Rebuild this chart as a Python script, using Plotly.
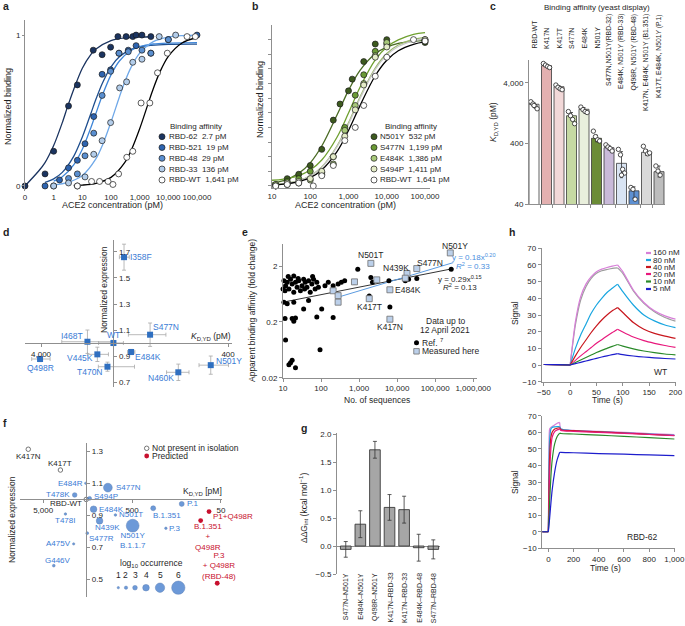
import math
import plotly.graph_objects as go

W, H = 685, 626
FONT = "Liberation Sans, Arial, Helvetica, sans-serif"
INK = "#1f1f1f"
AXC = "#8f8f8f"
VBLUE = "#3a7bd5"
VRED = "#c8102e"

# ---------------- panel a : titration, designed RBDs ----------------
a_names = ["RBD-62", "RBD-521", "RBD-48", "RBD-33", "RBD-WT"]
a_kd_text = ["2.7 pM", "19 pM", "29 pM", "136 pM", "1,641 pM"]
a_62_x = [0, 0.5, 1, 3.3, 6.7, 24, 49, 97, 174, 337, 575, 750, 1200, 2460]
a_62_y = [0, 0.08, 0.23, 0.53, 0.67, 0.90, 0.87, 0.92, 0.99, 0.99, 0.99, 1.0, 1.0, 0.99]
a_521_x = [0.5, 1.6, 3.3, 6.7, 12.4, 25, 49, 97, 190, 400, 750, 2460, 10000, 100000]
a_521_y = [0.0, 0.04, 0.12, 0.17, 0.28, 0.46, 0.74, 0.77, 0.88, 0.90, 0.93, 0.88, 0.97, 1.0]
a_48_x = [1, 3.3, 6.7, 12.4, 25, 49, 97, 190, 400, 1200, 2460, 10000]
a_48_y = [0.0, 0.05, 0.08, 0.20, 0.35, 0.60, 0.76, 0.88, 0.89, 0.90, 0.88, 0.97]
a_33_x = [1, 3.3, 6.7, 12.4, 25, 49, 97, 200, 350, 575, 1200, 4800, 18000]
a_33_y = [0.0, 0.02, 0.0, 0.06, 0.21, 0.30, 0.42, 0.65, 0.69, 0.82, 0.84, 0.99, 1.0]
a_wt_x = [6.7, 21, 40, 79, 117, 184, 355, 575, 1120, 2260, 4190, 9200, 45000, 87000]
a_wt_y = [0.0, 0.03, 0.03, 0.03, 0.01, 0.08, 0.19, 0.23, 0.55, 0.55, 0.75, 0.88, 0.99, 0.99]
# fitted curves
a_fit62_x = [0, 0.3, 0.5, 1, 2, 3, 5, 10, 20, 30, 100, 300, 1000, 3000]
a_fit62_y = [0, 0.099, 0.155, 0.268, 0.42, 0.521, 0.64, 0.78, 0.872, 0.908, 0.964, 0.981, 0.987, 0.989]
a_fit521_x = [0.5, 1, 2, 5, 10, 20, 30, 50, 100, 200, 500, 1000, 10000, 100000]
a_fit521_y = [0.024, 0.047, 0.09, 0.196, 0.324, 0.482, 0.576, 0.681, 0.79, 0.858, 0.905, 0.922, 0.938, 0.94]
a_fit48_x = [1, 2, 5, 10, 20, 30, 50, 100, 200, 500, 1000, 3000, 10000, 100000]
a_fit48_y = [0.032, 0.061, 0.14, 0.243, 0.388, 0.483, 0.601, 0.736, 0.83, 0.898, 0.923, 0.941, 0.947, 0.95]
a_fit33_x = [1, 3, 10, 30, 50, 100, 200, 300, 500, 1000, 3000, 10000, 30000, 100000]
a_fit33_y = [0.007, 0.022, 0.069, 0.181, 0.269, 0.424, 0.595, 0.688, 0.786, 0.88, 0.957, 0.987, 0.996, 0.999]
a_fitwt_x = [5, 10, 30, 100, 300, 500, 1000, 2000, 3000, 5000, 10000, 30000, 100000]
a_fitwt_y = [0.003, 0.006, 0.018, 0.057, 0.155, 0.234, 0.379, 0.549, 0.646, 0.753, 0.859, 0.948, 0.984]

# ---------------- panel b : titration, single mutants ----------------
b_names = ["N501Y", "S477N", "E484K", "S494P", "RBD-WT"]
b_kd_text = ["532 pM", "1,199 pM", "1,386 pM", "1,411 pM", "1,641 pM"]
b_n501y_x = [12.5, 25, 50, 100, 200, 400, 600, 1000, 1250, 2500, 5000, 10000, 100000]
b_n501y_y = [0.01, 0.05, 0.08, 0.14, 0.25, 0.45, 0.56, 0.65, 0.73, 0.85, 0.97, 1.0, 0.98]
b_conc_x = [12.5, 25, 50, 100, 200, 400, 800, 1500, 2500, 5000, 10000, 100000]
b_s477n_y = [0.0, 0.03, 0.05, 0.10, 0.09, 0.20, 0.40, 0.62, 0.76, 0.92, 0.97, 1.0]
b_e484k_y = [0.01, 0.01, 0.02, 0.04, 0.08, 0.15, 0.38, 0.55, 0.70, 0.89, 0.98, 0.99]
b_s494p_y = [0.0, 0.02, 0.03, 0.05, 0.10, 0.20, 0.34, 0.52, 0.69, 0.88, 0.95, 1.0]
b_wt_x = [12.5, 25, 50, 120, 200, 400, 800, 1500, 2500, 5000, 10000, 50000, 100000]
b_wt_y = [0.0, 0.01, 0.02, 0.0, 0.07, 0.14, 0.31, 0.40, 0.55, 0.75, 0.88, 1.0, 0.99]
b_fit_x = [10, 20, 50, 100, 200, 500, 1000, 2000, 5000, 10000, 20000, 50000, 100000]
b_fit_n501y = [0.019, 0.036, 0.086, 0.158, 0.273, 0.485, 0.653, 0.79, 0.904, 0.949, 0.974, 0.989, 0.995]
b_fit_s477n = [0.039, 0.047, 0.071, 0.109, 0.177, 0.333, 0.498, 0.674, 0.861, 0.95, 0.998, 1.036, 1.048]
b_fit_e484k = [0.007, 0.015, 0.036, 0.069, 0.13, 0.273, 0.431, 0.608, 0.806, 0.905, 0.963, 1.002, 1.016]
b_fit_s494p = [0.007, 0.014, 0.035, 0.068, 0.127, 0.267, 0.422, 0.598, 0.796, 0.894, 0.953, 0.992, 1.006]
b_fit_wt = [0.006, 0.012, 0.03, 0.057, 0.109, 0.234, 0.379, 0.549, 0.753, 0.859, 0.924, 0.968, 0.984]

# ---------------- panel c : yeast display KD ----------------
c_labels = ["RBD-WT", "K417N", "K417T", "S477N", "E484K", "N501Y",
            "S477N,N501Y(RBD-32)", "E484K, N501Y (RBD-33)", "Q498R, N501Y (RBD-48)",
            "K417N, E484K, N501Y (B1.351)", "K417T, E484K, N501Y (P.1)"]
c_kd = [1780, 7730, 3475, 1150, 1470, 488, 341, 188, 66, 286, 137]
c_err_plus = [100, 300, 150, 150, 100, 60, 30, 105, 11, 30, 33]
c_err_minus = [100, 300, 150, 150, 100, 60, 30, 79, 16, 30, 25]
c_rep_wt = [1960, 1800, 1650, 1500, 1700]
c_rep_k417n = [8400, 7900, 7500, 7200]
c_rep_k417t = [3700, 3400, 3200, 3100]
c_rep_s477n = [1350, 1150, 1000, 850]
c_rep_e484k = [1600, 1450, 1350, 1300]
c_rep_n501y = [640, 520, 460, 440]
c_rep_rbd32 = [380, 350, 330, 300]
c_rep_rbd33 = [320, 260, 150, 130, 120]
c_rep_rbd48 = [75, 70, 48]
c_rep_b1351 = [360, 300, 270, 280]
c_rep_p1 = [170, 140, 120]

# ---------------- panel d : expression vs KD ----------------
d_names = ["I358F", "S477N", "WT", "I468T", "E484K", "V445K", "T470N", "Q498R", "N460K", "N501Y"]
d_kd = [1440, 1045, 1641, 2260, 1320, 2000, 1766, 4050, 738, 495]
d_kd_plus = [85, 320, 330, 840, 60, 260, 210, 440, 115, 77]
d_kd_minus = [90, 185, 190, 585, 60, 255, 500, 470, 91, 97]
d_expr = [1.66, 1.064, 1.0, 1.01, 0.931, 0.913, 0.818, 0.877, 0.775, 0.83]
d_expr_err = [0.10, 0.09, 0.02, 0.09, 0.02, 0.055, 0.035, 0.02, 0.063, 0.07]

# ---------------- panel e : binding vs sequences ----------------
e_ref_x = [10.6, 11.7, 11.3, 12.9, 14.3, 15.8, 17.4, 19.2, 19.2, 21.3, 23.5, 25.9, 28.7, 31.6,
           34.9, 38.5, 42.6, 47, 52, 57.4, 63.4, 70, 77.3, 85.3, 127, 155, 208, 281, 342, 418,
           757, 2040, 2250, 924, 6080, 20000, 32900, 264000, 10.6, 12.9, 19.2, 34.9, 47, 104,
           77.3, 208, 11.3, 17.4, 21.3, 19.2, 11.7, 15.8, 14.3, 17.4, 21.3, 94, 1850, 6460,
           16400, 10.0, 13.7, 25.0, 37.0, 60.0]
e_ref_y = [1.09, 0.89, 0.72, 1.02, 0.775, 1.16, 0.95, 1.33, 0.68, 1.02, 0.83, 1.09, 0.72, 0.89,
           1.16, 1.02, 0.83, 1.09, 0.68, 0.95, 1.16, 0.775, 1.02, 0.83, 0.89, 1.02, 0.89, 0.95,
           1.02, 1.09, 1.02, 1.25, 1.02, 1.75, 1.09, 1.16, 1.19, 1.75, 0.45, 0.42, 0.45, 0.34,
           0.48, 0.34, 0.245, 0.24, 0.23, 0.23, 0.235, 0.206, 0.095, 0.037, 0.034, 0.041, 0.030,
           0.063, 0.58, 0.37, 1.09, 0.775, 1.3, 1.19, 0.775, 1.3]
e_meas_x = [2040, 250000, 32900, 18200, 6460, 1850, 6460, 757, 208, 281, 281, 2920, 16400]
e_meas_y = [2.23, 3.43, 1.8, 1.47, 0.75, 0.52, 0.223, 1.04, 0.72, 0.59, 0.45, 1.13, 1.21]
e_meas_names = ["N501T", "N501Y", "S477N", "N439K", "E484K", "K417T", "K417N", "", "", "", "", "", ""]
e_trend_ref_x = [10, 300000]
e_trend_ref_y = [0.45, 1.8]
e_trend_meas_x = [250, 300000]
e_trend_meas_y = [0.54, 2.3]

# ---------------- panel f : expression vs KD, variants ----------------
f_open_names = ["K417N", "K417T", "RBD-WT"]
f_open_kd = [7360, 3200, 1641]
f_open_expr = [1.314, 1.184, 1.0]
f_var_names = ["E484R", "T478K", "S494P", "S477N", "E484K", "N501T", "N439K", "N501Y<br>B.1.1.7",
               "B.1.351", "P.1", "P.3", "T478I", "S477R", "A475V", "G446V"]
f_var_kd = [1663, 2210, 1503, 935, 1355, 769, 1160, 492, 289, 138, 208, 2810, 1596, 2270, 3800]
f_var_expr = [1.101, 1.028, 1.007, 1.074, 0.939, 0.903, 0.866, 0.836, 0.945, 0.972, 0.82,
              0.909, 0.789, 0.722, 0.586]
f_var_logocc = [1.0, 3.0, 2.5, 4.8, 4.0, 1.3, 4.0, 5.9, 3.2, 3.2, 1.2, 1.2, 1.5, 1.0, 1.5]
f_pred_names = ["P1+Q498R", "B.1.351<br>+<br>Q498R", "P.3<br>+ Q498R<br>(RBD-48)"]
f_pred_kd = [68, 84.5, 55]
f_pred_expr = [0.924, 0.868, 0.476]
f_occ_levels = [1, 2, 3, 4, 5, 6]

# ---------------- panel g : double mutant cycles ----------------
g_labels = ["S477N–N501Y", "E484K–N501Y", "Q498R–N501Y", "K417N–RBD-33",
            "K417N–RBD-33", "E484K–RBD-48", "S477N–RBD-48"]
g_ddg = [-0.06, 0.39, 1.72, 0.69, 0.65, -0.03, -0.06]
g_err = [0.14, 0.24, 0.15, 0.23, 0.24, 0.24, 0.17]

# ---------------- panel h : SPR sensorgrams ----------------
h_conc = ["160 nM", "80 nM", "40 nM", "20 nM", "10 nM", "5 nM"]
h_base_t = [-50, -25, 0]
h_wt_base = [0.3, 0.2, 0.0]
h_wt_assoc_t = [0, 10, 20, 30, 40, 50, 60, 70, 80, 90]
h_wt_dissoc_t = [90, 100, 120, 140, 160, 180, 200]
h_wt_160_a = [0, 26, 41, 48.5, 53, 56, 57.5, 58.5, 59.3, 60]
h_wt_160_d = [60, 56, 45, 37.5, 32.5, 29.5, 27.5]
h_wt_80_a = [0, 10, 18, 24.5, 31, 36, 40, 43.5, 46, 48.5]
h_wt_80_d = [48.5, 44, 36, 30, 26.5, 24, 22.4]
h_wt_40_a = [0, 5.5, 10.5, 15, 19.5, 23.5, 27, 30, 32.5, 34.5]
h_wt_40_d = [34.5, 31.5, 25.5, 21.5, 19, 17.3, 16]
h_wt_20_a = [0, 2.8, 5.5, 8, 10.5, 13, 15.2, 17.4, 19.5, 21.5]
h_wt_20_d = [21.5, 19.8, 16.8, 14.6, 13, 11.7, 10.6]
h_wt_10_a = [0, 1.5, 3, 4.5, 6, 7.5, 8.8, 10, 11.2, 12.3]
h_wt_10_d = [12.3, 11.3, 9.7, 8.4, 7.4, 6.6, 6.1]
h_wt_5_a = [0, 0.8, 1.6, 2.4, 3.2, 4, 4.8, 5.5, 6.2, 6.8]
h_wt_5_d = [6.8, 6.2, 5.4, 4.8, 4.3, 3.9, 3.6]
h_wt_fit160_a = [0, 24, 39, 47, 52, 55, 56.5, 57.3, 58, 58.3]
h_wt_fit160_d = [58.3, 55, 44.5, 37, 32, 28.5, 26.3]
h_62_base = [0.0, 0.0, 0.0]
h_62_assoc_t = [0, 5, 10, 20, 30, 50, 70, 90]
h_62_dissoc_t = [90, 100, 200, 400, 600, 800, 1000]
h_62_160_a = [0, 50, 62, 63, 63.5, 64.5, 65.5, 66]
h_62_160_d = [66, 62, 61.2, 60.6, 60, 59.3, 58.6]
h_62_80_a = [0, 38, 55, 62, 63, 63.3, 63.5, 63.5]
h_62_80_d = [63.5, 62, 61, 60.3, 59.7, 58.9, 58.2]
h_62_40_a = [0, 28, 45, 57, 60, 62, 62.5, 62.8]
h_62_40_d = [62.8, 61.5, 61, 60.3, 59.6, 58.8, 58.1]
h_62_20_a = [0, 18, 33, 50, 57, 60.5, 61.5, 62]
h_62_20_d = [62, 61.2, 60.6, 60, 59.4, 58.7, 58]
h_62_10_a = [0, 9, 18, 33, 43, 53, 57.5, 59.5]
h_62_10_d = [59.5, 59.3, 59, 58.3, 57.6, 56.8, 56]
h_62_5_a = [0, 4, 8, 17, 25, 36, 43.5, 48]
h_62_5_d = [48, 47.9, 47.7, 47.2, 46.8, 46.4, 46]

# ---------------- styling ----------------
A_FILL = ["#1b3460", "#2e64b0", "#5a8fd0", "#b3cdea", "#ffffff"]
A_LINE = ["#1b3460", "#1f4f8f", "#3f86d8", "#6fa8e8", "#000000"]
B_FILL = ["#3d5a1e", "#6a9a35", "#a8c97a", "#e4ecc8", "#ffffff"]
B_LINE = ["#4a6b24", "#6fa030", "#9ab86a", "#c8c8c8", "#000000"]
C_FILL = ["#ffffff", "#e3b0b0", "#f2d8d8", "#c6d9a3", "#e9efdc", "#6b8c36",
          "#c9bad9", "#d9e4f3", "#5d90d2", "#d9d9d9", "#bdbdbd"]
H_COL = ["#d77fd8", "#1aa6e0", "#c8171e", "#e8187c", "#2a8a2a", "#1d1dcc"]
A_ZERO_POS = 0.1          # where "0" concentration is drawn on the log axis
JITTER = [-0.25, -0.08, 0.09, 0.25, 0.0]


def fx(p):
    return p / W


def fy(p):
    return 1 - p / H


def occ_size(level):
    return 2.3 * 1.42 ** (level - 1)


fig = go.Figure()
ANN = []


def ptext(x, y, text, size=9, color=INK, xa="center", ya="middle", angle=0):
    ANN.append(dict(x=fx(x), y=fy(y), xref="paper", yref="paper", text=text, showarrow=False,
                    xanchor=xa, yanchor=ya, textangle=angle, borderpad=0,
                    font=dict(size=size, color=color, family=FONT)))


def dtext(xr, yr, x, y, text, size=8, color=INK, xa="center", ya="middle", dx=0, dy=0,
          angle=0):
    ANN.append(dict(x=x, y=y, xref=xr, yref=yr, text=text, showarrow=False, xanchor=xa,
                    yanchor=ya, xshift=dx, yshift=dy, textangle=angle, borderpad=0,
                    font=dict(size=size, color=color, family=FONT)))


def sc(**kw):
    base = dict(showlegend=False, hoverinfo="skip", cliponaxis=False)
    base.update(kw)
    fig.add_trace(go.Scatter(**base))


# ---------------- panel a traces ----------------
a_fits = [(a_fit62_x, a_fit62_y), (a_fit521_x, a_fit521_y), (a_fit48_x, a_fit48_y),
          (a_fit33_x, a_fit33_y), (a_fitwt_x, a_fitwt_y)]
a_pts = [(a_62_x, a_62_y), (a_521_x, a_521_y), (a_48_x, a_48_y), (a_33_x, a_33_y), (a_wt_x, a_wt_y)]
for (xs, ys), col in zip(a_fits, A_LINE):
    sc(x=[A_ZERO_POS if v == 0 else v for v in xs], y=ys, mode="lines",
       line=dict(color=col, width=1.3, shape="spline", smoothing=0.8), xaxis="x", yaxis="y")
for (xs, ys), col in zip(a_pts, A_FILL):
    sc(x=[A_ZERO_POS if v == 0 else v for v in xs], y=ys, mode="markers",
       marker=dict(size=6, color=col, line=dict(color="#1a1a1a", width=0.7)),
       xaxis="x", yaxis="y")

# ---------------- panel b traces ----------------
b_fits = [b_fit_n501y, b_fit_s477n, b_fit_e484k, b_fit_s494p, b_fit_wt]
b_pts = [(b_n501y_x, b_n501y_y), (b_conc_x, b_s477n_y), (b_conc_x, b_e484k_y),
         (b_conc_x, b_s494p_y), (b_wt_x, b_wt_y)]
for ys, col in zip(b_fits, B_LINE):
    sc(x=b_fit_x, y=ys, mode="lines", line=dict(color=col, width=1.3, shape="spline"),
       xaxis="x2", yaxis="y2")
for (xs, ys), col in zip(b_pts, B_FILL):
    sc(x=xs, y=ys, mode="markers",
       marker=dict(size=6, color=col, line=dict(color="#1a1a1a", width=0.7)),
       xaxis="x2", yaxis="y2")

# ---------------- panel c traces ----------------
c_idx = list(range(len(c_labels)))
fig.add_trace(go.Bar(x=c_idx, y=c_kd, width=0.8, marker=dict(color=C_FILL, line=dict(color="#3a3a3a", width=0.8)),
                     error_y=dict(type="data", array=c_err_plus, arrayminus=c_err_minus,
                                  color="#333333", thickness=0.8, width=1.5),
                     xaxis="x3", yaxis="y3", showlegend=False, hoverinfo="skip"))
c_reps = [c_rep_wt, c_rep_k417n, c_rep_k417t, c_rep_s477n, c_rep_e484k, c_rep_n501y,
          c_rep_rbd32, c_rep_rbd33, c_rep_rbd48, c_rep_b1351, c_rep_p1]
rx, ry = [], []
for i, reps in enumerate(c_reps):
    for k, v in enumerate(reps):
        rx.append(i + JITTER[k])
        ry.append(v)
sc(x=rx, y=ry, mode="markers", marker=dict(size=4.4, color="white", line=dict(color="#222", width=0.8)),
   xaxis="x3", yaxis="y3")
for i, lab in enumerate(c_labels):
    if len(lab) <= 6:
        dtext("x3", "paper", i, fy(50), lab, size=7, xa="center", ya="bottom", angle=-90)
    else:
        dtext("x3", "paper", i, fy(13), lab, size=6.8, xa="center", ya="top", angle=-90)

# ---------------- panel d traces ----------------
sc(x=d_kd, y=d_expr, mode="markers",
   marker=dict(symbol="square", size=6, color="#2f6fc0"),
   error_x=dict(type="data", array=d_kd_plus, arrayminus=d_kd_minus, color="#a8a8a8", thickness=0.8, width=2),
   error_y=dict(type="data", array=d_expr_err, color="#a8a8a8", thickness=0.8, width=2),
   xaxis="x4", yaxis="y4")
d_place = {"I358F": ("left", 5, 0), "S477N": ("left", 2, 8), "WT": ("center", 0, 8),
           "I468T": ("right", -3, 6), "E484K": ("left", 3, -5), "V445K": ("right", -3, -4),
           "T470N": ("right", -3, -5), "Q498R": ("center", 0, -9), "N460K": ("right", -3, -6),
           "N501Y": ("left", 4, 4)}
for n, k, e in zip(d_names, d_kd, d_expr):
    xa, dx, dy = d_place[n]
    dtext("x4", "y4", math.log10(k), e, n, size=8.5, color=VBLUE, xa=xa, dx=dx, dy=dy)

# ---------------- panel e traces ----------------
sc(x=e_trend_ref_x, y=e_trend_ref_y, mode="lines", line=dict(color="#333", width=1), xaxis="x5", yaxis="y5")
sc(x=e_trend_meas_x, y=e_trend_meas_y, mode="lines", line=dict(color="#5b9be0", width=1), xaxis="x5", yaxis="y5")
sc(x=e_ref_x, y=e_ref_y, mode="markers", marker=dict(size=5, color="black"), xaxis="x5", yaxis="y5")
sc(x=e_meas_x, y=e_meas_y, mode="markers",
   marker=dict(symbol="square", size=6, color="#bcd0ea", line=dict(color="#6f6f6f", width=0.8)),
   xaxis="x5", yaxis="y5")
e_place = {"N501T": ("center", 0, 8), "N501Y": ("center", 5, 7), "S477N": ("left", -1, 6),
           "N439K": ("right", 3, 5), "E484K": ("left", 4, 0), "K417T": ("center", 0, -8),
           "K417N": ("center", 0, -8)}
for n, xv, yv in zip(e_meas_names, e_meas_x, e_meas_y):
    if n:
        xa, dx, dy = e_place[n]
        dtext("x5", "y5", math.log10(xv), math.log10(yv), n, size=8.5, xa=xa, dx=dx, dy=dy)

# ---------------- panel f traces ----------------
sc(x=f_open_kd, y=f_open_expr, mode="markers",
   marker=dict(size=4.5, color="white", line=dict(color="#555", width=0.8)), xaxis="x7", yaxis="y7")
sc(x=f_var_kd, y=f_var_expr, mode="markers",
   marker=dict(size=[occ_size(v) for v in f_var_logocc], color="#2f6fc8", line=dict(color="#1d4f9a", width=0.5)),
   xaxis="x7", yaxis="y7")
sc(x=f_pred_kd, y=f_pred_expr, mode="markers", marker=dict(size=4.8, color=VRED), xaxis="x7", yaxis="y7")
f_open_place = {"K417N": ("center", 0, -7), "K417T": ("center", 0, 7), "RBD-WT": ("right", -3, -4)}
for n, k, e in zip(f_open_names, f_open_kd, f_open_expr):
    xa, dx, dy = f_open_place[n]
    dtext("x7", "y7", math.log10(k), e, n, size=8, color=INK, xa=xa, dx=dx, dy=dy)
f_var_place = {"E484R": ("right", -2, 0), "T478K": ("right", -4, 0), "S494P": ("left", 3, 2),
               "S477N": ("left", 7, 0), "E484K": ("left", 4, 0), "N501T": ("left", 3, 0),
               "N439K": ("center", 8, -7), "N501Y<br>B.1.1.7": ("center", 0, -15),
               "B.1.351": ("left", -1, -7), "P.1": ("left", 4, 0), "P.3": ("left", 2, 0),
               "T478I": ("center", 0, -6), "S477R": ("left", 1, -5), "A475V": ("right", -2, 0),
               "G446V": ("center", 4, 5)}
for n, k, e in zip(f_var_names, f_var_kd, f_var_expr):
    xa, dx, dy = f_var_place[n]
    dtext("x7", "y7", math.log10(k), e, n, size=8, color=VBLUE, xa=xa, dx=dx, dy=dy)
f_pred_place = [("left", 3, -5), ("center", 7, -16), ("center", 2, 17)]
for n, k, e, (xa, dx, dy) in zip(f_pred_names, f_pred_kd, f_pred_expr, f_pred_place):
    dtext("x7", "y7", math.log10(k), e, n, size=8, color=VRED, xa=xa, dx=dx, dy=dy)

# ---------------- panel g traces ----------------
g_idx = list(range(len(g_labels)))
fig.add_trace(go.Bar(x=g_idx, y=g_ddg, width=0.73, marker=dict(color="#a6a6a6", line=dict(color="#3a3a3a", width=0.9)),
                     error_y=dict(type="data", array=g_err, color="#333", thickness=0.8, width=2),
                     xaxis="x8", yaxis="y8", showlegend=False, hoverinfo="skip"))
for i, lab in enumerate(g_labels):
    dtext("x8", "paper", i, fy(572), lab, size=7, xa="center", ya="top", angle=-90)


# ---------------- panel h traces ----------------
def sensor(bt, by, at, ay, dt, dy, col, xa, ya, width=1.2):
    sc(x=list(bt) + [None] + list(at) + [None] + list(dt),
       y=list(by) + [None] + list(ay) + [None] + list(dy),
       mode="lines", line=dict(color=col, width=width, shape="spline", smoothing=0.6),
       connectgaps=False, xaxis=xa, yaxis=ya)


wt_a = [h_wt_160_a, h_wt_80_a, h_wt_40_a, h_wt_20_a, h_wt_10_a, h_wt_5_a]
wt_d = [h_wt_160_d, h_wt_80_d, h_wt_40_d, h_wt_20_d, h_wt_10_d, h_wt_5_d]
sensor(h_base_t, h_wt_base, h_wt_assoc_t, h_wt_fit160_a, h_wt_dissoc_t, h_wt_fit160_d, "#9e9e9e", "x6", "y6")
for a, d, col in zip(wt_a, wt_d, H_COL):
    sensor(h_base_t, h_wt_base, h_wt_assoc_t, a, h_wt_dissoc_t, d, col, "x6", "y6")
r62_a = [h_62_160_a, h_62_80_a, h_62_40_a, h_62_20_a, h_62_10_a, h_62_5_a]
r62_d = [h_62_160_d, h_62_80_d, h_62_40_d, h_62_20_d, h_62_10_d, h_62_5_d]
for a, d, col in zip(r62_a, r62_d, H_COL):
    sensor(h_base_t, h_62_base, h_62_assoc_t, a, h_62_dissoc_t, d, col, "x9", "y9")

# ---------------- legend glyphs (pixel overlay axes) ----------------
A_LEG_Y = [136.7, 147.5, 158.3, 169, 180]
sc(x=[162] * 5, y=A_LEG_Y, mode="markers",
   marker=dict(size=6, color=A_FILL, line=dict(color="#1a1a1a", width=0.7)), xaxis="x10", yaxis="y10")
sc(x=[374] * 5, y=A_LEG_Y, mode="markers",
   marker=dict(size=6, color=B_FILL, line=dict(color="#1a1a1a", width=0.7)), xaxis="x10", yaxis="y10")
for n, t, yy in zip(a_names, a_kd_text, A_LEG_Y):
    ptext(168, yy, f"{n}  {t}", size=8, xa="left")
for n, t, yy in zip(b_names, b_kd_text, A_LEG_Y):
    ptext(379, yy, f"{n}  {t}", size=8, xa="left")
ptext(169, 126, "Binding affinity", size=8, xa="left")
ptext(384, 126, "Binding affinity", size=8, xa="left")
# e legend
sc(x=[416.5], y=[342.7], mode="markers", marker=dict(size=5, color="black"), xaxis="x10", yaxis="y10")
sc(x=[416.5], y=[351.3], mode="markers",
   marker=dict(symbol="square", size=5.5, color="#bcd0ea", line=dict(color="#6f6f6f", width=0.8)),
   xaxis="x10", yaxis="y10")
ptext(421, 342.7, "Ref. <sup>7</sup>", size=8.5, xa="left")
ptext(421, 351.3, "Measured here", size=8.5, xa="left")
# h legend
H_LEG_Y = [253, 260, 267, 274, 281.5, 289]
for col, yy, lab in zip(H_COL, H_LEG_Y, h_conc):
    sc(x=[646, 651], y=[yy, yy], mode="lines", line=dict(color=col, width=2.2), xaxis="x10", yaxis="y10")
    ptext(652, yy, lab, size=8, xa="left")
# f legends
sc(x=[146.7], y=[448.3], mode="markers", marker=dict(size=4.5, color="white", line=dict(color="#555", width=0.8)),
   xaxis="x10", yaxis="y10")
sc(x=[146.7], y=[456], mode="markers", marker=dict(size=4.8, color=VRED), xaxis="x10", yaxis="y10")
ptext(151, 448.3, "Not present in isolation", size=8.5, xa="left")
ptext(151, 456.3, "Predicted", size=8.5, xa="left")
F_LEG_X = [118.3, 126, 135, 146, 160, 178.3]
sc(x=F_LEG_X, y=[587.7] * 6, mode="markers",
   marker=dict(size=[occ_size(v) for v in f_occ_levels], color="#2f6fc8", line=dict(color="#1d4f9a", width=0.5)),
   xaxis="x10", yaxis="y10")
for xx, lv in zip(F_LEG_X, f_occ_levels):
    ptext(xx, 575, str(lv), size=8.5)
ptext(151, 563.3, "log<sub>10</sub> occurrence", size=8.5)

# ---------------- titles / labels ----------------
ptext(2, 6, "<b>a</b>", size=10.5, xa="left")
ptext(251, 6, "<b>b</b>", size=10.5, xa="left")
ptext(489, 6, "<b>c</b>", size=10.5, xa="left")
ptext(2, 232, "<b>d</b>", size=10.5, xa="left")
ptext(241, 232, "<b>e</b>", size=10.5, xa="left")
ptext(508, 232, "<b>h</b>", size=10.5, xa="left")
ptext(2, 423, "<b>f</b>", size=10.5, xa="left")
ptext(300, 428, "<b>g</b>", size=10.5, xa="left")

ptext(8, 107, "Normalized binding", size=9, angle=-90)
ptext(112, 205, "ACE2 concentration (pM)", size=9)
ptext(260, 100, "Normalized binding", size=9, angle=-90)
ptext(345, 205, "ACE2 concentration (pM)", size=9)
ptext(597, 8, "Binding affinity (yeast display)", size=8)
ptext(494, 122, "<i>K</i><sub>D,YD</sub> (pM)", size=8.5, angle=-90)
ptext(104, 290, "Normalized expression", size=8.5, angle=-90)
ptext(211, 336, "<i>K</i><sub>D,YD</sub> (pM)", size=8.5)
ptext(252, 310, "Apparent binding affinity (fold change)", size=8.5, angle=-90)
ptext(377, 400, "No. of sequences", size=8.5)
ptext(445, 321, "Data up to", size=8.5)
ptext(445, 329.5, "12 April 2021", size=8.5)
ptext(451, 257, "y = 0.18x<sup>0.20</sup>", size=8, color="#4a8fe0", xa="left")
ptext(455, 265.5, "<i>R</i><sup>2</sup> = 0.33", size=8, color="#4a8fe0", xa="left")
ptext(437, 279, "y = 0.29x<sup>0.15</sup>", size=8, xa="left")
ptext(442, 287, "<i>R</i><sup>2</sup> = 0.13", size=8, xa="left")
ptext(515, 313, "Signal", size=8.5, angle=-90)
ptext(607, 400, "Time (s)", size=8.5)
ptext(660, 372, "WT", size=8.5)
ptext(515, 482, "Signal", size=8.5, angle=-90)
ptext(605, 568, "Time (s)", size=8.5)
ptext(642, 537, "RBD-62", size=8.5)
ptext(12, 520, "Normalized expression", size=8.5, angle=-90)
ptext(202, 491, "K<sub>D,YD</sub> [pM]", size=8.5)
ptext(303, 508, "ΔΔG<sub>int</sub> (kcal mol<sup>−1</sup>)", size=8.5, angle=-90)

# ---------------- axes ----------------
TICKF = dict(size=8, color=INK, family=FONT)


def axis(dom, rng, **kw):
    d = dict(domain=dom, range=rng, showgrid=False, zeroline=False, showline=True, linecolor=AXC,
             linewidth=1, ticks="outside", ticklen=3, tickcolor=AXC, tickfont=TICKF, fixedrange=True,
             automargin=False, tickangle=0)
    d.update(kw)
    return d


def xdom(l, r):
    return [fx(l), fx(r)]


def ydom(bottom, top):
    return [fy(bottom), fy(top)]


conc_ticks = [A_ZERO_POS, 1, 10, 100, 1000, 10000, 100000]
conc_text = ["0", "1", "10", "100", "1,000", "10,000", "100,000"]

# d / f cross axes: vertical axis crosses at WT KD, horizontal at expression 1.0
D_XR = [3.688, 2.581]
D_XD = (25, 232)
D_YR = [0.662, 1.792]
D_YD = (387, 240)
F_XR = [3.96, 1.69]
F_XD = (20, 221.7)
F_YR = [0.39, 1.353]
F_YD = (597, 443)


def cross_x(xr, xd, val):
    return fx(xd[0] + (xr[0] - math.log10(val)) / (xr[0] - xr[1]) * (xd[1] - xd[0]))


def cross_y(yr, yd, val):
    return fy(yd[0] - (val - yr[0]) / (yr[1] - yr[0]) * (yd[0] - yd[1]))


layout = dict(
    width=W, height=H, margin=dict(l=0, r=0, t=0, b=0, autoexpand=False),
    paper_bgcolor="white", plot_bgcolor="rgba(0,0,0,0)",
    font=dict(family=FONT, size=9, color=INK), showlegend=False,
    annotations=ANN,
    xaxis=axis(xdom(25, 197), [-1, 5.0], type="log", anchor="y", showline=False, ticks="",
               tickvals=conc_ticks, ticktext=conc_text),
    yaxis=axis(ydom(190.5, 20), [-0.03, 1.1], anchor="x", tickvals=[0, 1], ticklen=2),
    xaxis2=axis(xdom(272, 430), [1, 5.13], type="log", anchor="y2", ticks="",
                tickvals=conc_ticks[2:], ticktext=conc_text[2:]),
    yaxis2=axis(ydom(188, 25), [-0.014, 1.1], anchor="x2", tickvals=[i / 10 for i in range(11)],
                showticklabels=False),
    xaxis3=axis(xdom(529, 665), [-0.4, 10.48], anchor="y3", tickvals=[i - 0.5 for i in range(12)],
                showticklabels=False),
    yaxis3=axis(ydom(204, 60), [math.log10(40), 3.982], type="log", anchor="x3",
                tickvals=[40, 400, 4000], ticktext=["40", "400", "4,000"]),
    xaxis4=axis(xdom(*D_XD), D_XR, type="log", anchor="free", position=cross_y(D_YR, D_YD, 1.0),
                tickvals=[400, 4000], ticktext=["400", "4,000"]),
    yaxis4=axis(ydom(*D_YD), D_YR, anchor="free", position=cross_x(D_XR, D_XD, d_kd[2]), side="right",
                tickvals=[0.7, 0.9, 1.1, 1.3, 1.5, 1.7]),
    xaxis5=axis(xdom(283, 477), [1, 6.1], type="log", anchor="y5",
                tickvals=[10, 100, 1000, 10000, 100000, 1000000],
                ticktext=["10", "100", "1,000", "10,000", "100,000", "1,000,000"]),
    yaxis5=axis(ydom(377.7, 244), [math.log10(0.02), 0.695], type="log", anchor="x5",
                tickvals=[0.02, 0.2, 2], ticktext=["0.02", "0.2", "2"]),
    xaxis6=axis(xdom(541.7, 676), [-54, 201], anchor="y6", tickvals=[-50, 0, 50, 100, 150, 200]),
    yaxis6=axis(ydom(381.7, 248.3), [-10, 70], anchor="x6", dtick=10, tick0=0),
    xaxis7=axis(xdom(*F_XD), F_XR, type="log", anchor="free", position=cross_y(F_YR, F_YD, 1.0),
                tickvals=[50, 500, 5000], ticktext=["50", "500", "5,000"]),
    yaxis7=axis(ydom(*F_YD), F_YR, anchor="free", position=cross_x(F_XR, F_XD, f_open_kd[2]), side="right",
                tickvals=[0.5, 0.7, 0.9, 1.1, 1.3]),
    xaxis8=axis(xdom(337, 440), [-0.6, 6.46], anchor="y8", showline=False, ticks="", showticklabels=False),
    yaxis8=axis(ydom(574, 433), [-0.5, 2.02], anchor="x8", tickvals=[-0.5, 0, 0.5, 1, 1.5, 2],
                tickformat=".1f", zeroline=True, zerolinecolor=AXC, zerolinewidth=1),
    xaxis9=axis(xdom(542.3, 675), [-48, 1005], anchor="y9", tickvals=[0, 200, 400, 600, 800, 1000],
                ticktext=["0", "200", "400", "600", "800", "1,000"]),
    yaxis9=axis(ydom(548.3, 415.8), [-10, 70], anchor="x9", dtick=10, tick0=0),
    xaxis10=dict(domain=[0, 1], range=[0, W], visible=False, anchor="y10", fixedrange=True, automargin=False),
    yaxis10=dict(domain=[0, 1], range=[H, 0], visible=False, anchor="x10", fixedrange=True, automargin=False),
)
fig.update_layout(**layout)
fig.write_html("out.html", config={"displayModeBar": False},
               post_script="document.body.style.margin='0px';document.body.style.padding='0px';")
